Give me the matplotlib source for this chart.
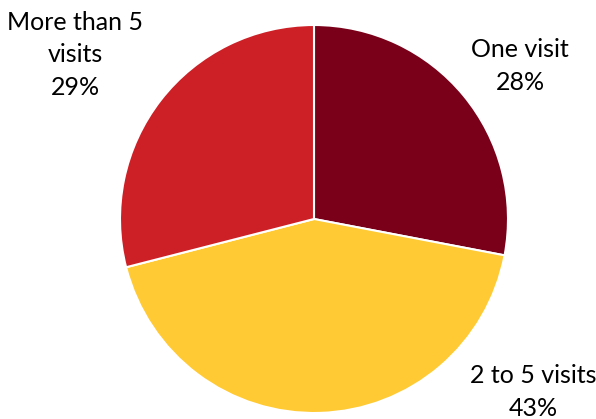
import matplotlib
matplotlib.use('Agg')
import matplotlib.pyplot as plt

labels = ['One visit', '2 to 5 visits', 'More than 5\nvisits']
shares = [28, 43, 29]
colors = ['#7a0019', '#ffca33', '#cd1f26']
# label anchor (x, y) in pixels from the top-left corner
label_pos = [(520, 66), (533, 392), (75, 55)]

W, H = 596, 419
fig = plt.figure(figsize=(W / 100, H / 100), dpi=100)
ax = fig.add_axes([0, 0, 1, 1])

ax.pie(shares, colors=colors, startangle=90, counterclock=False,
       center=(314, H - 219), radius=194, frame=True,
       wedgeprops=dict(edgecolor='white', linewidth=1.5))
ax.set_xlim(0, W)
ax.set_ylim(0, H)
ax.set_aspect('equal')
ax.axis('off')

for lab, val, (x, y) in zip(labels, shares, label_pos):
    ax.text(x, H - y, '%s\n%d%%' % (lab, val), ha='center', va='center',
            fontsize=18, family=['Lato', 'DejaVu Sans'], linespacing=1.5)

fig.savefig('out.png', dpi=100)
